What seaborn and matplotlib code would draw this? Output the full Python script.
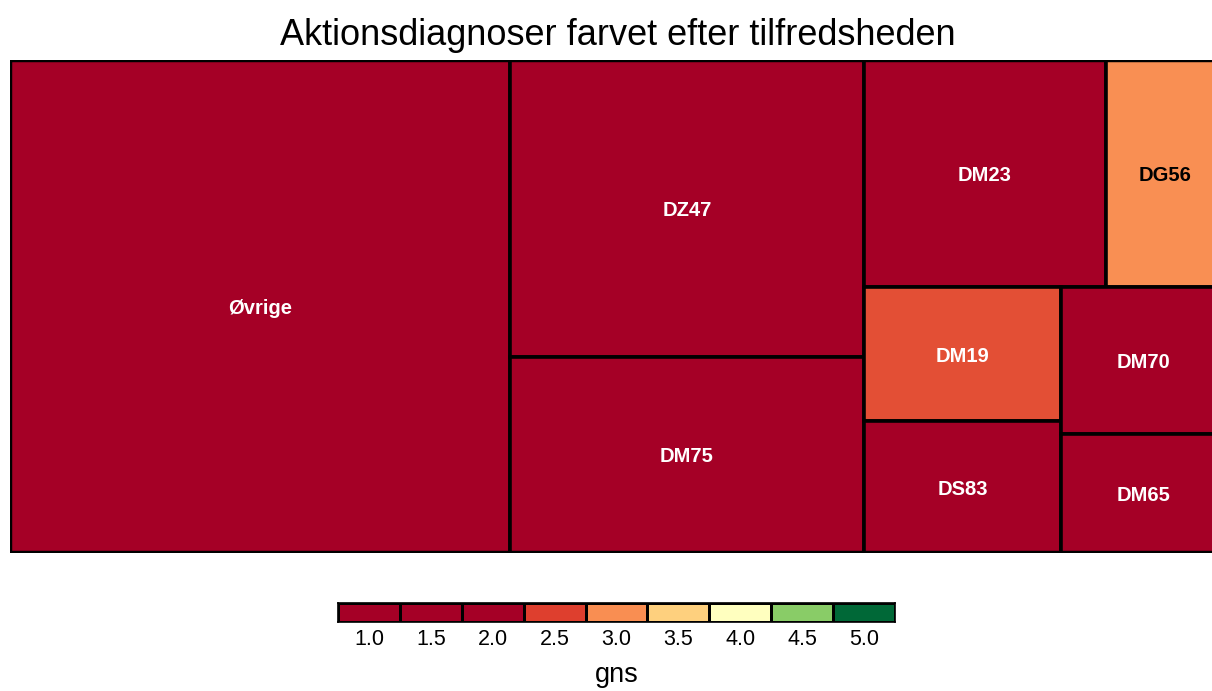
import numpy as np
import matplotlib
matplotlib.use("Agg")
import matplotlib.pyplot as plt
import matplotlib.colors as mcolors
from matplotlib.patches import Rectangle
import seaborn as sns

# data
diagnoser = ["Øvrige", "DZ47", "DM75", "DM23", "DG56", "DM19", "DS83", "DM70", "DM65"]
antal = [493, 210, 139, 110, 54, 53, 52, 48, 39]
gns = [1.4, 1.3, 1.5, 1.4, 3.0, 2.6, 1.6, 1.5, 1.7]

legend_values = [1.0, 1.5, 2.0, 2.5, 3.0, 3.5, 4.0, 4.5, 5.0]
legend_colors = ["#A50026", "#A50026", "#A50026", "#DE3F2E", "#F98E52",
                 "#FED07E", "#FFFFBF", "#89CC67", "#006837"]

title = "Aktionsdiagnoser farvet efter tilfredsheden"
legend_title = "gns"


def worst(row, side):
    s = sum(row)
    return max(max(side * side * r / (s * s), (s * s) / (side * side * r)) for r in row)


def squarify(values, x, y, w, h):
    # squarified treemap, y grows downwards
    total = sum(values)
    vals = [v * w * h / total for v in values]
    rects = []
    while vals:
        side = min(w, h)
        row = [vals[0]]
        i = 1
        while i < len(vals) and worst(row + [vals[i]], side) <= worst(row, side):
            row.append(vals[i])
            i += 1
        vals = vals[i:]
        s = sum(row)
        if w >= h:
            cw = s / h
            yy = y
            for r in row:
                rh = r / cw
                rects.append((x, yy, cw, rh))
                yy += rh
            x += cw
            w -= cw
        else:
            rh = s / w
            xx = x
            for r in row:
                rw = r / rh
                rects.append((xx, y, rw, rh))
                xx += rw
            y += rh
            h -= rh
    return rects


sns.set_theme(style="white")
plt.rcParams["font.family"] = ["Liberation Sans", "DejaVu Sans"]
plt.rcParams["text.color"] = "black"
plt.rcParams["xtick.color"] = "black"
plt.rcParams["axes.labelcolor"] = "black"

W, H = 1212, 691
fig = plt.figure(figsize=(W / 100, H / 100), dpi=100)

cmap = mcolors.LinearSegmentedColormap.from_list(
    "rdylgn", [((v - 1.0) / 4.0, c) for v, c in zip(legend_values, legend_colors)])
norm = mcolors.Normalize(vmin=1.0, vmax=5.0)

# treemap, right edge runs past the figure like in the reference
tw, th = 1215, 493
ax = fig.add_axes([10 / W, (H - 553) / H, tw / W, th / H])
rects = squarify(antal, 0, 0, tw, th)
for (rx, ry, rw, rh), name, g in zip(rects, diagnoser, gns):
    col = cmap(norm(g))
    ax.add_patch(Rectangle((rx, ry), rw, rh, facecolor=col, edgecolor="black", lw=2.6))
    lum = 0.299 * col[0] + 0.587 * col[1] + 0.114 * col[2]
    ax.text(rx + rw / 2, ry + rh / 2, name, ha="center", va="center_baseline",
            fontsize=14.5, fontweight="bold", color="white" if lum < 0.55 else "black")
ax.add_patch(Rectangle((0, 0), tw, th, fill=False, edgecolor="black", lw=3.2))
ax.set_xlim(0, tw)
ax.set_ylim(th, 0)
ax.axis("off")
ax.set_title(title, fontsize=26, pad=11, color="black")

# legend as a one-row heatmap
lax = fig.add_axes([338 / W, (H - 622) / H, 557 / W, 19 / H])
leg = np.array([legend_values])
sns.heatmap(leg, ax=lax, cmap=mcolors.ListedColormap(legend_colors),
            vmin=0.75, vmax=5.25, cbar=False, linewidths=1.0, linecolor="black",
            xticklabels=[f"{v:.1f}" for v in legend_values], yticklabels=False)
for s in lax.spines.values():
    s.set_visible(True)
    s.set_color("black")
    s.set_linewidth(1.2)
lax.tick_params(axis="x", length=0, labelsize=15.5, pad=5, labelrotation=0)
lax.set_xlabel(legend_title, fontsize=19.5, labelpad=9)

fig.savefig("out.png", dpi=100)
